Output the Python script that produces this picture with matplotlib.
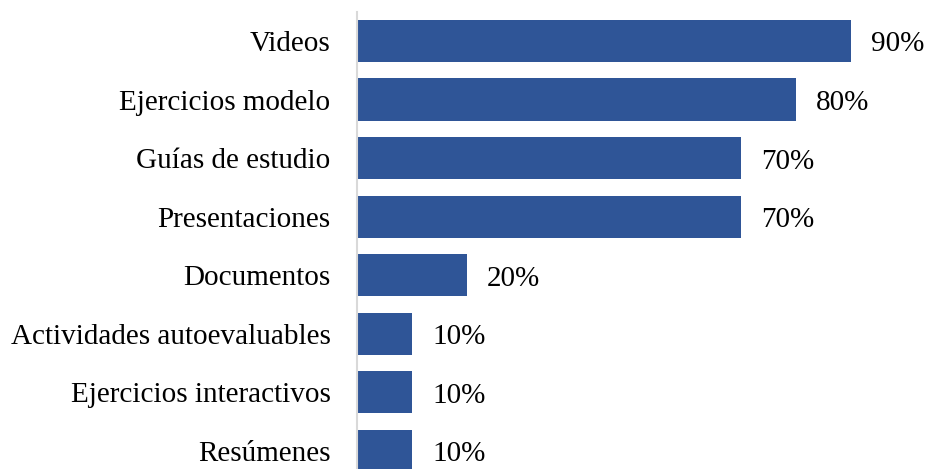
import matplotlib
matplotlib.use("Agg")
import matplotlib.pyplot as plt

categories = ["Videos", "Ejercicios modelo", "Guías de estudio", "Presentaciones",
              "Documentos", "Actividades autoevaluables", "Ejercicios interactivos", "Resúmenes"]
values = [90, 80, 70, 70, 20, 10, 10, 10]
value_labels = ["90%", "80%", "70%", "70%", "20%", "10%", "10%", "10%"]

plt.rcParams["font.family"] = ["Liberation Serif", "DejaVu Serif"]

W, H = 932, 469
fig = plt.figure(figsize=(W / 100, H / 100), dpi=100)
left_px, right_px = 357, 906
top_px, bottom_px = 11.7, 480
ax = fig.add_axes([left_px / W, 1 - bottom_px / H,
                   (right_px - left_px) / W, (bottom_px - top_px) / H])

n = len(categories)
ypos = list(range(n))
ax.barh(ypos, values, height=0.72, color="#2F5597", edgecolor="none", zorder=2)
ax.set_ylim(n - 0.5, -0.5)
ax.set_xlim(0, 100)

ax.set_yticks(ypos)
ax.set_yticklabels(categories, fontsize=21)
ax.tick_params(axis="y", length=0, pad=19)
ax.set_xticks([])

for y, v, lab in zip(ypos, values, value_labels):
    ax.annotate(lab, (v, y), xytext=(14.5, -2.5), textcoords="offset points",
                va="center", ha="left", fontsize=21)

for s in ["top", "right", "bottom"]:
    ax.spines[s].set_visible(False)
ax.spines["left"].set_color("#D9D9D9")
ax.spines["left"].set_linewidth(1.5)
ax.patch.set_visible(False)

fig.savefig("out.png", dpi=100)
